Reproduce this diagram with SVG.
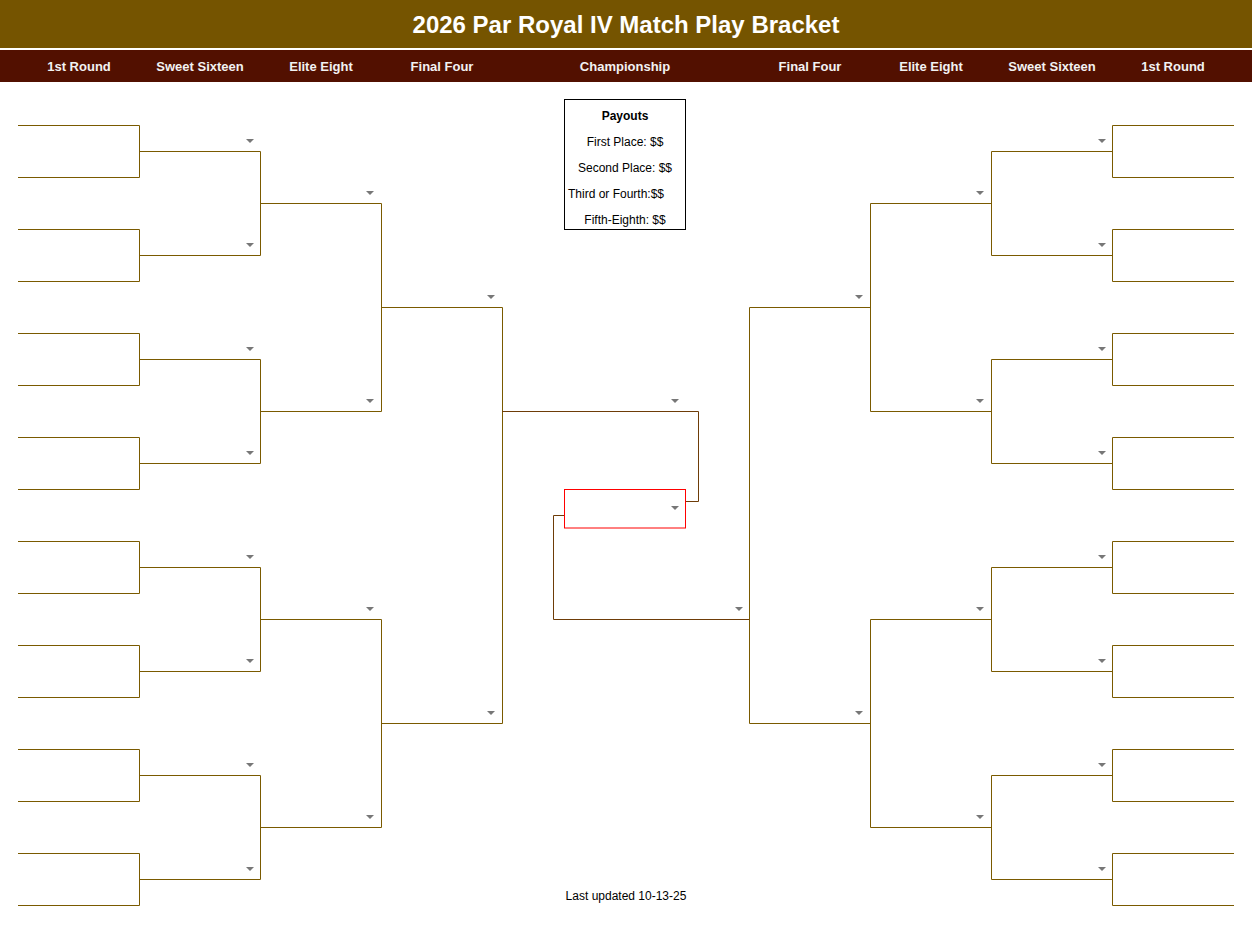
<svg xmlns="http://www.w3.org/2000/svg" width="1252" height="925" viewBox="0 0 1252 925">
<style>
.br{fill:none;stroke:#7a5a00;stroke-width:1}
.ch{fill:none;stroke:#6e3c08;stroke-width:1}
.hd{font-family:"Liberation Sans",Arial,sans-serif;font-weight:bold;font-size:13px;fill:#f2f2f2;text-anchor:middle}
.tx{font-family:"Liberation Sans",Arial,sans-serif;font-size:12px;fill:#000;text-anchor:middle}
.tt{font-family:"Liberation Sans",Arial,sans-serif;font-weight:bold;font-size:24px;fill:#fff;text-anchor:middle}
</style>
<defs>
<path id="dd" d="M0,0 h8 l-4,4 z" fill="#777"/>
</defs>
<rect width="1252" height="925" fill="#fff"/>
<g id="header">
<rect x="0" y="0" width="1252" height="48" fill="#755400"/>
<rect x="0" y="48" width="1252" height="2" fill="#fff"/>
<rect x="0" y="50" width="1252" height="32" fill="#521000"/>
<text class="tt" x="626" y="33">2026 Par Royal IV Match Play Bracket</text>
<text class="hd" x="79" y="71">1st Round</text>
<text class="hd" x="200" y="71">Sweet Sixteen</text>
<text class="hd" x="321" y="71">Elite Eight</text>
<text class="hd" x="442" y="71">Final Four</text>
<text class="hd" x="625" y="71">Championship</text>
<text class="hd" x="810" y="71">Final Four</text>
<text class="hd" x="931" y="71">Elite Eight</text>
<text class="hd" x="1052" y="71">Sweet Sixteen</text>
<text class="hd" x="1173" y="71">1st Round</text>
</g>
<g id="connectors">
<path class="br" d="M18,125.5H139.5V177.5H18M18,229.5H139.5V281.5H18M18,333.5H139.5V385.5H18M18,437.5H139.5V489.5H18M18,541.5H139.5V593.5H18M18,645.5H139.5V697.5H18M18,749.5H139.5V801.5H18M18,853.5H139.5V905.5H18"/>
<path class="br" d="M139,151.5H260.5V255.5H139M139,359.5H260.5V463.5H139M139,567.5H260.5V671.5H139M139,775.5H260.5V879.5H139"/>
<path class="br" d="M260,203.5H381.5V411.5H260M260,619.5H381.5V827.5H260"/>
<path class="br" d="M381,307.5H502.5V723.5H381"/>
<path class="ch" d="M502,411.5H698.5V501.5H685"/>
<path class="ch" d="M564,515.5H553.5V619.5H749"/>
<path class="br" d="M870,307.5H749.5V723.5H870"/>
<path class="br" d="M991,203.5H870.5V411.5H991M991,619.5H870.5V827.5H991"/>
<path class="br" d="M1112,151.5H991.5V255.5H1112M1112,359.5H991.5V463.5H1112M1112,567.5H991.5V671.5H1112M1112,775.5H991.5V879.5H1112"/>
<path class="br" d="M1234,125.5H1112.5V177.5H1234M1234,229.5H1112.5V281.5H1234M1234,333.5H1112.5V385.5H1234M1234,437.5H1112.5V489.5H1234M1234,541.5H1112.5V593.5H1234M1234,645.5H1112.5V697.5H1234M1234,749.5H1112.5V801.5H1234M1234,853.5H1112.5V905.5H1234"/>
</g>
<g id="dropdowns">
<use href="#dd" x="246" y="139"/><use href="#dd" x="246" y="243"/><use href="#dd" x="246" y="347"/><use href="#dd" x="246" y="451"/>
<use href="#dd" x="246" y="555"/><use href="#dd" x="246" y="659"/><use href="#dd" x="246" y="763"/><use href="#dd" x="246" y="867"/>
<use href="#dd" x="366" y="191"/><use href="#dd" x="366" y="399"/><use href="#dd" x="366" y="607"/><use href="#dd" x="366" y="815"/>
<use href="#dd" x="487" y="295"/><use href="#dd" x="487" y="711"/>
<use href="#dd" x="671" y="399"/>
<use href="#dd" x="735" y="607"/>
<use href="#dd" x="855" y="295"/><use href="#dd" x="855" y="711"/>
<use href="#dd" x="976" y="191"/><use href="#dd" x="976" y="399"/><use href="#dd" x="976" y="607"/><use href="#dd" x="976" y="815"/>
<use href="#dd" x="1098" y="139"/><use href="#dd" x="1098" y="243"/><use href="#dd" x="1098" y="347"/><use href="#dd" x="1098" y="451"/>
<use href="#dd" x="1098" y="555"/><use href="#dd" x="1098" y="659"/><use href="#dd" x="1098" y="763"/><use href="#dd" x="1098" y="867"/>
</g>
<g id="champion">
<rect x="564.5" y="489.5" width="121" height="38.5" fill="#fff" stroke="#ff0000" stroke-width="1"/>
<use href="#dd" x="671" y="506"/>
</g>
<g id="payouts">
<rect x="564.5" y="99.5" width="121" height="130" fill="#fff" stroke="#000" stroke-width="1"/>
<text class="tx" x="625" y="120" font-weight="bold">Payouts</text>
<text class="tx" x="625" y="146">First Place: $$</text>
<text class="tx" x="625" y="172">Second Place: $$</text>
<text class="tx" x="616" y="198">Third or Fourth:$$</text>
<text class="tx" x="625" y="224">Fifth-Eighth: $$</text>
</g>
<g id="footer">
<text class="tx" x="626" y="900">Last updated 10-13-25</text>
</g>
</svg>
